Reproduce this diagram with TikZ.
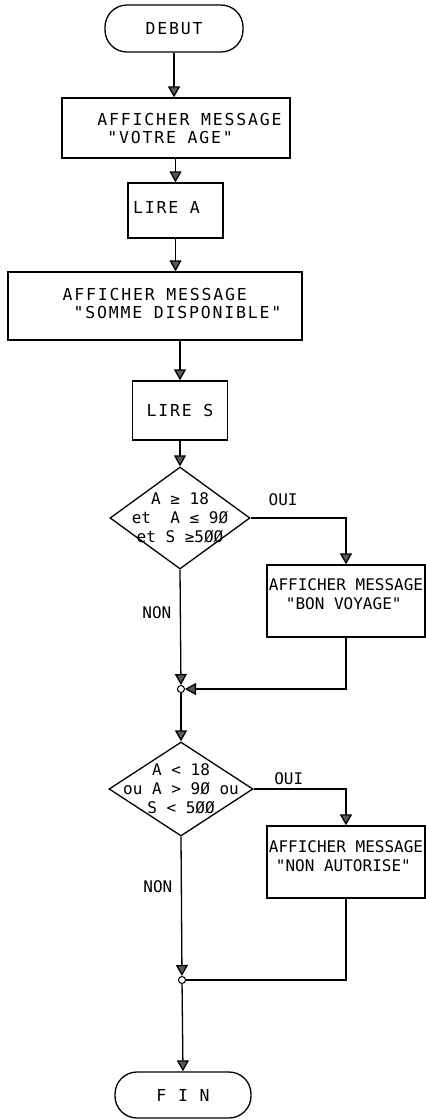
\documentclass[tikz,border=0pt]{standalone}
\usepackage{fontspec}
\usepackage{tikz}
\usetikzlibrary{arrows.meta, positioning, shapes.geometric}
\newfontfamily\plotfont{DejaVu Sans Mono}
\newfontfamily\plotwidefont[LetterSpace=11]{DejaVu Sans Mono}
\tikzset{
    bigText/.style={font=\plotwidefont\fontsize{16.5}{18}\selectfont},
    smallText/.style={font=\plotfont\fontsize{16}{19}\selectfont},
    termBox/.style={draw, line width=1.3pt, rounded corners=22pt, bigText},
    msgBox/.style={draw, line width=1.3pt, inner sep=0pt},
    testNode/.style={diamond, draw, line width=1.3pt, inner sep=0pt},
    joinDot/.style={circle, draw, fill=white, line width=1pt, inner sep=0pt, minimum size=7pt},
    flowLine/.style={line width=1.3pt}
}

\begin{document}
\begin{tikzpicture}[x=1pt, y=-1pt, >={Triangle[length=11pt, width=12pt, fill=black!65]}]
    \useasboundingbox (0,0) rectangle (426,1120);
    \node[termBox, minimum width=138pt, minimum height=47pt] (debut) at (174,28.5) {DEBUT};
    \node[msgBox, minimum width=228pt, minimum height=60pt,
          label={[bigText, align=left, xshift=13.5pt]center:{AFFICHER MESSAGE\\\hspace*{10pt}"VOTRE AGE"}}] (votre) at (176,128) {};
    \node[msgBox, minimum width=95pt, minimum height=55pt,
          label={[bigText, xshift=-9pt, yshift=3pt]center:{LIRE A}}] (lireA) at (175.5,210.5) {};
    \node[msgBox, minimum width=294pt, minimum height=68pt,
          label={[bigText, align=left, xshift=17pt, yshift=3pt]center:{AFFICHER MESSAGE\\\hspace*{11pt}"SOMME DISPONIBLE"}}] (somme) at (155,306) {};
    \node[msgBox, minimum width=95pt, minimum height=59pt,
          label={[bigText]center:{LIRE S}}] (lireS) at (180,410.5) {};
    \node[testNode, minimum width=140pt, minimum height=102pt,
          label={[smallText, align=center]center:{A ≥ 18\\et\ \ A ≤ 9Ø\\et S ≥5ØØ}}] (testA) at (180,518) {};
    \node[msgBox, minimum width=158pt, minimum height=72pt,
          label={[smallText, align=left, yshift=7pt]center:{AFFICHER MESSAGE\\\hspace*{17pt}"BON VOYAGE"}}] (bonVoy) at (346,601) {};
    \node[joinDot] (joinA) at (181,689) {};
    \node[testNode, minimum width=144pt, minimum height=94pt,
          label={[smallText, align=center]center:{A < 18\\ou A > 9Ø ou\\S < 5ØØ}}] (testB) at (181,789) {};
    \node[msgBox, minimum width=158pt, minimum height=72pt,
          label={[smallText, align=left, yshift=6pt]center:{AFFICHER MESSAGE\\\hspace*{7pt}"NON AUTORISE"}}] (nonAut) at (346,862) {};
    \node[joinDot] (joinB) at (182,980) {};
    \node[termBox, minimum width=136pt, minimum height=46pt] (fin) at (183,1095) {F I N};

    \draw[->, flowLine] (debut.south) -- (debut.south |- votre.north);
    \draw[->, flowLine] (lireA.north |- votre.south) -- (lireA.north);
    \draw[->, flowLine] (lireA.south) -- (lireA.south |- somme.north);
    \draw[->, flowLine] (lireS.north |- somme.south) -- (lireS.north);
    \draw[->, flowLine] (lireS.south) -- (testA.north);
    \draw[->, flowLine] (testA.east) -| node[smallText, pos=0.17, above=8pt]{OUI} (bonVoy.north);
    \draw[->, flowLine] (testA.south) -- node[smallText, pos=0.37, left=5pt]{NON} (joinA);
    \draw[->, flowLine] (bonVoy.south) |- (joinA);
    \draw[->, flowLine] (joinA) -- (testB.north);
    \draw[->, flowLine] (testB.east) -| node[smallText, pos=0.19, above]{OUI} (nonAut.north);
    \draw[->, flowLine] (testB.south) -- node[smallText, pos=0.36, left=5pt]{NON} (joinB);
    \draw[flowLine] (nonAut.south) |- (joinB);
    \draw[->, flowLine] (joinB) -- (fin.north);
\end{tikzpicture}
\end{document}
